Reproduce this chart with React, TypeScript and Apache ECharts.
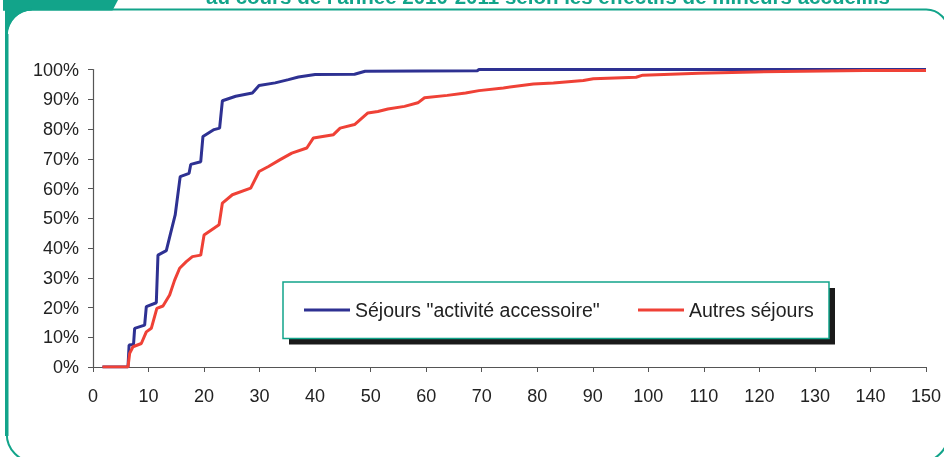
import React, { useEffect, useRef } from "react";
import * as echarts from "echarts";

const titleText = "au cours de l'année 2010-2011 selon les effectifs de mineurs accueillis";
const seriesNames = ['Séjours "activité accessoire"', "Autres séjours"];

const blueX = [1.7, 6.3, 6.5, 7.3, 7.5, 9.3, 9.6, 11.4, 11.7, 13.2, 13.9, 14.8, 15.7, 17.3, 17.6, 19.4, 19.8, 21.8, 22.8, 23.3, 25.7, 28.7, 29.9, 32.8, 35.2, 37, 40, 47.1, 49, 69.2, 69.5, 150];
const blueY = [0, 0, 7.4, 7.6, 13, 14.1, 20.3, 21.6, 37.6, 39.1, 44.4, 51.1, 64, 65.1, 68.1, 69, 77.5, 79.8, 80.3, 89.5, 91, 92.1, 94.6, 95.5, 96.6, 97.5, 98.3, 98.4, 99.4, 99.6, 100, 100];

const redX = [1.7, 6.3, 6.6, 7.2, 8.7, 9.6, 10.5, 11.5, 12.6, 13.8, 14.7, 15.6, 16.8, 17.9, 19.4, 20, 22.7, 23.3, 25.1, 28.4, 29.9, 31.6, 33.7, 35.8, 38.5, 39.7, 43.3, 44.5, 47.1, 49.5, 51.3, 53.1, 56.1, 58.5, 59.7, 63.8, 67.1, 69.5, 73.9, 79.3, 82.9, 88.3, 90.1, 97.8, 99, 109.1, 119, 138.9, 150];
const redY = [0, 0, 4.6, 6.8, 7.9, 11.8, 13, 19.7, 20.5, 24.2, 29.2, 33.2, 35.4, 37.1, 37.6, 44.4, 47.8, 55.1, 57.9, 60.1, 65.7, 67.4, 69.7, 71.9, 73.6, 77, 78.1, 80.3, 81.5, 85.4, 85.9, 86.7, 87.6, 88.8, 90.5, 91.3, 92.1, 92.9, 93.8, 95.1, 95.5, 96.3, 96.9, 97.4, 98.1, 98.7, 99.2, 99.7, 99.7];

const TEAL = "#12a48a";
const FONT = "'Liberation Sans', Arial, sans-serif";

echarts.graphic.registerShape(
  "cornerFill",
  echarts.graphic.extendPath("M 3 8.5 L 31.75 8.5 L 31.75 10.5 A 25 25 0 0 0 7.75 34.5 L 5 34.5 L 5 10.5 L 3 10.5 Z", {})
);

export default function App() {
  const ref = useRef<HTMLDivElement>(null);
  useEffect(() => {
    if (!ref.current) return;
    const chart = echarts.init(ref.current, undefined, { renderer: "svg" });
    const pairs = (xs: number[], ys: number[]) => xs.map((x, i) => [x, ys[i]]);
    const legendBase = {
      top: 300,
      padding: 0,
      icon: "rect",
      itemWidth: 46,
      itemHeight: 3,
      selectedMode: false,
      z: 20,
      textStyle: { fontSize: 19.5, color: "#222", fontFamily: FONT },
    };
    chart.setOption({
      animation: false,
      grid: { left: 93, right: 12, top: 69.5, bottom: 90 },
      xAxis: {
        type: "value",
        min: 0,
        max: 150,
        interval: 10,
        axisLine: { show: true, lineStyle: { color: "#555", width: 1.2 } },
        axisTick: { show: true, length: 5, lineStyle: { color: "#555" } },
        splitLine: { show: false },
        axisLabel: { fontSize: 18, color: "#222", fontFamily: FONT, margin: 20 },
      },
      yAxis: {
        type: "value",
        min: 0,
        max: 100,
        interval: 10,
        axisLine: { show: true, lineStyle: { color: "#555", width: 1.2 } },
        axisTick: { show: true, length: 5, lineStyle: { color: "#555" } },
        splitLine: { show: false },
        axisLabel: { fontSize: 18, color: "#222", fontFamily: FONT, margin: 14, formatter: "{value}%" },
      },
      legend: [
        { ...legendBase, data: [seriesNames[0]], left: 304 },
        { ...legendBase, data: [seriesNames[1]], left: 638 },
      ],
      graphic: [
        { type: "polygon", z: 1, shape: { points: [[3, 0], [118, 0], [112.5, 10.5], [3, 10.5]] }, style: { fill: TEAL } },
        {
          type: "rect",
          z: 1,
          shape: { x: 6.75, y: 9.5, width: 941.5, height: 452.5, r: [25, 22, 28, 28] },
          style: { fill: "none", stroke: TEAL, lineWidth: 2 },
        },
        { type: "line", z: 1, shape: { x1: 6.75, y1: 34, x2: 6.75, y2: 436 }, style: { stroke: TEAL, lineWidth: 3.5 } },
        { type: "cornerFill", z: 1, x: 0, y: 0, scaleX: 1, scaleY: 1, style: { fill: TEAL } },
        {
          type: "text",
          z: 1,
          x: 548,
          y: -3.5,
          style: {
            text: titleText,
            fill: TEAL,
            font: "bold 20.5px 'Liberation Sans', Arial, sans-serif",
            align: "center",
            verticalAlign: "middle",
          },
        },
        { type: "rect", z: 10, shape: { x: 289, y: 288, width: 546, height: 56.5 }, style: { fill: "#1a1a1a" } },
        {
          type: "rect",
          z: 11,
          shape: { x: 283, y: 282, width: 546, height: 56.5 },
          style: { fill: "#fff", stroke: TEAL, lineWidth: 1.5 },
        },
      ],
      series: [
        {
          name: seriesNames[0],
          type: "line",
          data: pairs(blueX, blueY),
          symbol: "none",
          color: "#2e3192",
          lineStyle: { width: 3, color: "#2e3192" },
          z: 3,
        },
        {
          name: seriesNames[1],
          type: "line",
          data: pairs(redX, redY),
          symbol: "none",
          color: "#ef4136",
          lineStyle: { width: 3, color: "#ef4136" },
          z: 4,
        },
      ],
    });
    return () => chart.dispose();
  }, []);
  return <div ref={ref} style={{ position: "fixed", left: 0, top: 0, width: 944, height: 457 }} />;
}
